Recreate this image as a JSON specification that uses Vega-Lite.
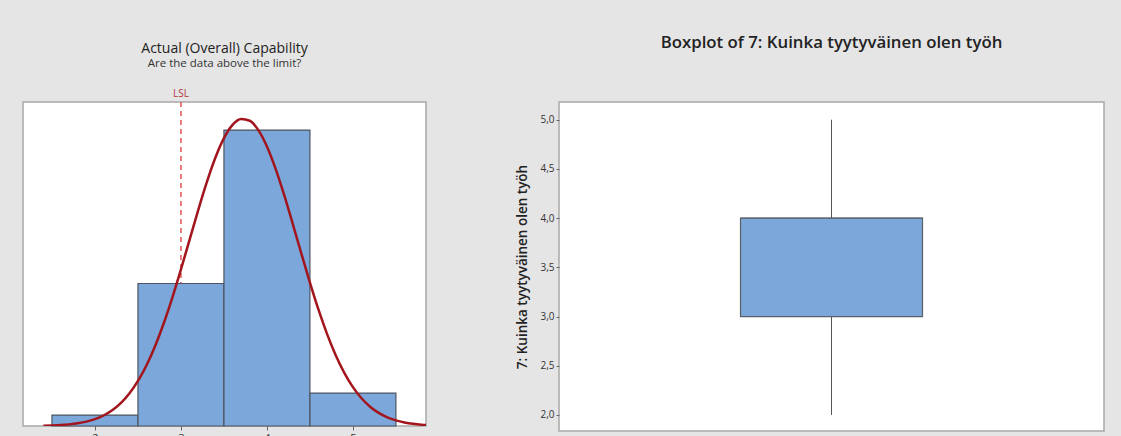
{
  "$schema": "https://vega.github.io/schema/vega-lite/v6.json",
  "background": "#e5e5e5",
  "padding": {"left": 22, "top": 34, "right": 16, "bottom": 0},
  "spacing": 88,
  "columns": 2,
  "align": "none",
  "config": {
    "font": "Open Sans",
    "view": {"stroke": "#a8a8a8", "strokeWidth": 1.5, "fill": "white"},
    "axis": {"grid": false, "domain": false, "tickColor": "#666", "labelColor": "#333", "labelFontSize": 10, "tickSize": 4}
  },
  "datasets": {
    "hist": [
      {"bin_start": 1.5, "bin_end": 2.5, "count": 1},
      {"bin_start": 2.5, "bin_end": 3.5, "count": 13},
      {"bin_start": 3.5, "bin_end": 4.5, "count": 27},
      {"bin_start": 4.5, "bin_end": 5.5, "count": 3}
    ],
    "curve": [
      {"x": 1.4, "y": 0.028}, {"x": 1.5, "y": 0.05}, {"x": 1.6, "y": 0.087}, {"x": 1.7, "y": 0.148},
      {"x": 1.8, "y": 0.246}, {"x": 1.9, "y": 0.397}, {"x": 2.0, "y": 0.625}, {"x": 2.1, "y": 0.958},
      {"x": 2.2, "y": 1.432}, {"x": 2.3, "y": 2.089}, {"x": 2.4, "y": 2.967}, {"x": 2.5, "y": 4.111},
      {"x": 2.6, "y": 5.549}, {"x": 2.7, "y": 7.304}, {"x": 2.8, "y": 9.371}, {"x": 2.9, "y": 11.72},
      {"x": 3.0, "y": 14.29}, {"x": 3.1, "y": 16.98}, {"x": 3.2, "y": 19.68}, {"x": 3.3, "y": 22.22},
      {"x": 3.4, "y": 24.47}, {"x": 3.5, "y": 26.26}, {"x": 3.6, "y": 27.47}, {"x": 3.7, "y": 28.01},
      {"x": 3.8, "y": 27.85}, {"x": 3.9, "y": 26.99}, {"x": 4.0, "y": 25.5}, {"x": 4.1, "y": 23.48},
      {"x": 4.2, "y": 21.08}, {"x": 4.3, "y": 18.45}, {"x": 4.4, "y": 15.74}, {"x": 4.5, "y": 13.09},
      {"x": 4.6, "y": 10.61}, {"x": 4.7, "y": 8.381}, {"x": 4.8, "y": 6.457}, {"x": 4.9, "y": 4.849},
      {"x": 5.0, "y": 3.549}, {"x": 5.1, "y": 2.532}, {"x": 5.2, "y": 1.762}, {"x": 5.3, "y": 1.195},
      {"x": 5.4, "y": 0.79}, {"x": 5.5, "y": 0.509}, {"x": 5.6, "y": 0.32}, {"x": 5.7, "y": 0.196},
      {"x": 5.8, "y": 0.117}, {"x": 5.85, "y": 0.089}
    ],
    "lsl": [{"x": 3, "top": 29.56, "label": "LSL"}],
    "box": [{"g": "7", "lower": 2, "q1": 3, "median": 4, "q3": 4, "upper": 5}]
  },
  "concat": [
    {
      "width": 403,
      "height": 324,
      "title": {
        "text": "Actual (Overall) Capability",
        "subtitle": "Are the data above the limit?",
        "fontSize": 14,
        "fontWeight": "normal",
        "color": "#222",
        "subtitleFontSize": 11.5,
        "subtitleColor": "#333",
        "subtitlePadding": 2,
        "offset": 20
      },
      "layer": [
        {
          "data": {"name": "lsl"},
          "mark": {"type": "rule", "color": "#e05555", "strokeWidth": 1.5, "strokeDash": [5, 4]},
          "encoding": {
            "x": {"field": "x", "type": "quantitative", "scale": {"domain": [1.163, 5.85], "nice": false, "zero": false}}
          }
        },
        {
          "data": {"name": "hist"},
          "mark": {"type": "rect", "fill": "#7ba7da", "stroke": "#4d5560", "strokeWidth": 1.2},
          "encoding": {
            "x": {"field": "bin_start", "type": "quantitative",
                  "scale": {"domain": [1.163, 5.85], "nice": false, "zero": false},
                  "axis": {"values": [2, 3, 4, 5], "format": "d", "title": null, "labelFontSize": 11, "labelPadding": 2}},
            "x2": {"field": "bin_end"},
            "y": {"field": "count", "type": "quantitative",
                  "scale": {"domain": [0, 29.56], "nice": false}, "axis": null},
            "y2": {"datum": 0}
          }
        },
        {
          "data": {"name": "curve"},
          "mark": {"type": "line", "color": "#a3151c", "strokeWidth": 2.5, "interpolate": "monotone", "clip": true},
          "encoding": {
            "x": {"field": "x", "type": "quantitative"},
            "y": {"field": "y", "type": "quantitative"}
          }
        },
        {
          "data": {"name": "lsl"},
          "mark": {"type": "text", "color": "#b23a3a", "fontSize": 10, "baseline": "bottom", "dy": -3},
          "encoding": {
            "x": {"field": "x", "type": "quantitative"},
            "y": {"field": "top", "type": "quantitative"},
            "text": {"field": "label"}
          }
        }
      ]
    },
    {
      "width": 545,
      "height": 329,
      "data": {"name": "box"},
      "title": {
        "text": "Boxplot of 7: Kuinka tyytyväinen olen työh",
        "fontSize": 16.8,
        "fontWeight": 600,
        "color": "#222",
        "offset": 50
      },
      "layer": [
        {
          "mark": {"type": "rule", "color": "#555", "strokeWidth": 1},
          "encoding": {
            "x": {"field": "g", "type": "nominal", "axis": null, "scale": {"paddingInner": 0, "paddingOuter": 0}},
            "y": {"field": "lower", "type": "quantitative",
                  "scale": {"domain": [1.837, 5.18], "nice": false, "zero": false},
                  "axis": {"values": [2, 2.5, 3, 3.5, 4, 4.5, 5],
                           "labelExpr": "replace(format(datum.value, '.1f'), '.', ',')",
                           "title": "7: Kuinka tyytyväinen olen työh",
                           "titleFontSize": 13.5, "titleFontWeight": 600, "titleColor": "#222",
                           "titlePadding": 10, "tickSize": 3}},
            "y2": {"field": "upper"}
          }
        },
        {
          "mark": {"type": "bar", "width": 182, "fill": "#7ba7da", "stroke": "#5a6068", "strokeWidth": 1.2},
          "encoding": {
            "x": {"field": "g", "type": "nominal"},
            "y": {"field": "q1", "type": "quantitative"},
            "y2": {"field": "q3"}
          }
        },
        {
          "mark": {"type": "tick", "size": 182, "color": "#5a6068", "thickness": 1.2},
          "encoding": {
            "x": {"field": "g", "type": "nominal"},
            "y": {"field": "median", "type": "quantitative"}
          }
        }
      ]
    }
  ]
}
